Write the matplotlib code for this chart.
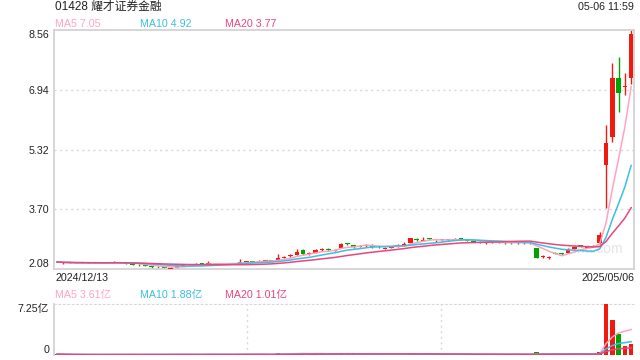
import numpy as np
import pandas as pd
import matplotlib
matplotlib.use('Agg')
import matplotlib.pyplot as plt

plt.rcParams['font.family'] = ['Liberation Sans', 'Noto Sans CJK SC']

title = '01428 耀才证券金融'
stamp = '05-06 11:59'
first_date = '2024/12/13'
last_date = '2025/05/06'

opens = [2.28,2.23,2.26,2.25,2.24,2.25,2.24,2.25,2.24,2.24,
         2.26,2.24,2.22,2.20,2.18,2.16,2.14,2.13,2.09,2.12,
         2.16,2.19,2.21,2.23,2.21,2.24,2.23,2.22,2.23,2.24,
         2.27,2.30,2.28,2.30,2.32,2.32,2.38,2.42,2.47,2.60,
         2.48,2.52,2.59,2.63,2.58,2.65,2.78,2.72,2.68,2.70,
         2.74,2.70,2.63,2.66,2.70,2.72,2.79,2.90,2.85,2.91,
         2.83,2.88,2.86,2.87,2.91,2.88,2.85,2.82,2.78,2.80,
         2.80,2.81,2.80,2.78,2.78,2.78,2.65,2.40,2.37,2.52,
         2.51,2.52,2.63,2.72,2.66,2.69,2.79,4.90,5.66,7.26,
         7.02,7.26]
closes = [2.27,2.25,2.25,2.24,2.25,2.24,2.25,2.24,2.25,2.26,
          2.25,2.22,2.20,2.19,2.16,2.14,2.13,2.12,2.12,2.15,
          2.18,2.20,2.22,2.22,2.23,2.23,2.22,2.23,2.24,2.27,
          2.29,2.28,2.30,2.30,2.31,2.38,2.41,2.46,2.53,2.49,
          2.51,2.59,2.62,2.60,2.60,2.76,2.75,2.68,2.71,2.74,
          2.69,2.68,2.65,2.69,2.73,2.76,2.92,2.87,2.87,2.89,
          2.84,2.86,2.88,2.89,2.89,2.85,2.82,2.80,2.79,2.81,
          2.79,2.79,2.78,2.80,2.79,2.79,2.38,2.43,2.40,2.50,
          2.49,2.63,2.68,2.70,2.68,2.71,3.00,5.50,7.26,6.85,
          7.04,8.45]
highs = [2.30,2.27,2.27,2.26,2.26,2.26,2.26,2.26,2.27,2.30,
         2.27,2.25,2.23,2.21,2.19,2.17,2.15,2.14,2.13,2.17,
         2.19,2.22,2.23,2.24,2.30,2.25,2.24,2.24,2.25,2.35,
         2.31,2.31,2.32,2.31,2.33,2.48,2.43,2.48,2.63,2.61,
         2.53,2.61,2.65,2.64,2.62,2.78,2.79,2.73,2.73,2.77,
         2.75,2.71,2.67,2.70,2.76,2.80,2.93,2.91,2.96,2.93,
         2.86,2.89,2.90,2.91,2.92,2.89,2.86,2.83,2.81,2.83,
         2.81,2.82,2.81,2.85,2.81,2.81,2.66,2.45,2.42,2.53,
         2.52,2.65,2.70,2.73,2.70,2.73,3.08,5.98,7.67,7.83,
         7.39,8.56]
lows = [2.26,2.22,2.24,2.23,2.23,2.23,2.23,2.23,2.23,2.23,
        2.24,2.21,2.19,2.17,2.15,2.12,2.11,2.10,2.08,2.11,
        2.15,2.18,2.20,2.21,2.20,2.21,2.21,2.21,2.22,2.23,
        2.26,2.27,2.27,2.29,2.30,2.31,2.37,2.41,2.46,2.47,
        2.47,2.51,2.58,2.57,2.57,2.64,2.73,2.66,2.67,2.69,
        2.66,2.66,2.62,2.65,2.69,2.71,2.78,2.85,2.84,2.86,
        2.82,2.84,2.85,2.86,2.87,2.84,2.81,2.79,2.77,2.78,
        2.78,2.77,2.77,2.77,2.77,2.77,2.37,2.39,2.34,2.48,
        2.47,2.51,2.62,2.67,2.65,2.68,2.77,3.73,5.52,6.34,
        6.80,7.10]
# 成交额，单位：亿
volumes = [0.12,0.08,0.06,0.05,0.06,0.05,0.06,0.05,0.07,0.10,
           0.06,0.08,0.07,0.06,0.08,0.07,0.06,0.07,0.12,0.09,
           0.07,0.08,0.07,0.06,0.15,0.06,0.05,0.06,0.07,0.18,
           0.10,0.07,0.08,0.06,0.07,0.25,0.15,0.18,0.30,0.22,
           0.12,0.20,0.18,0.12,0.10,0.28,0.18,0.12,0.10,0.12,
           0.10,0.08,0.09,0.08,0.10,0.12,0.30,0.15,0.18,0.12,
           0.10,0.09,0.10,0.08,0.09,0.10,0.12,0.10,0.08,0.07,
           0.07,0.08,0.09,0.10,0.08,0.07,0.40,0.12,0.15,0.10,
           0.09,0.20,0.15,0.10,0.08,0.10,0.40,7.25,4.93,3.04,
           1.30,1.60]

price_ticks = [2.08, 3.70, 5.32, 6.94, 8.56]
ma_price_text = ['MA5 7.05', 'MA10 4.92', 'MA20 3.77']
ma_vol_text = ['MA5 3.61亿', 'MA10 1.88亿', 'MA20 1.01亿']

RED = '#f01a0f'
GREEN = '#00a400'
MA_COLORS = ['#ffa3c3', '#3cbfe0', '#e8467c']
GRID = '#d8d8d8'
EDGE = '#d0d0d0'
TXT = '#222222'

W, H = 640, 360
def box(l, t, r, b):
    return [l / W, 1 - b / H, (r - l) / W, (b - t) / H]

fig = plt.figure(figsize=(6.4, 3.6), dpi=100)
ax = fig.add_axes(box(54, 30, 634, 269))
ax2 = fig.add_axes(box(54, 304, 634, 355))

n = len(closes)
x = np.arange(n)
o = np.array(opens); c = np.array(closes)
up = c >= o
colors = np.where(up, RED, GREEN)

# K线
ax.vlines(x, lows, highs, colors=colors, lw=1, zorder=2)
body = np.maximum(np.abs(c - o), 0.012)
ax.bar(x, body, bottom=np.minimum(o, c), width=0.72, color=colors, lw=0, zorder=3)

close_s = pd.Series(closes)
for k, col in zip([5, 10, 20], MA_COLORS):
    ax.plot(x, close_s.rolling(k, min_periods=1).mean(), color=col, lw=1.1, zorder=4)

xl = (-0.48, n - 0.55)
ax.set_xlim(xl)
ax.set_ylim(2.08, 8.56)
for v in price_ticks[1:-1]:
    ax.axhline(v, color=GRID, lw=1, ls=(0, (1.5, 2.5)), zorder=1)
ax.set_yticks(price_ticks)
ax.set_yticklabels(['%.2f' % v for v in price_ticks])
ax.tick_params(axis='y', length=0, pad=3.5, labelsize=7.7, labelcolor=TXT)
ax.set_xticks([])
lbl = ax.get_yticklabels()
lbl[0].set_va('bottom')
lbl[-1].set_va('top')
for s in ax.spines.values():
    s.set_color(EDGE)
    s.set_linewidth(1.2)

ax.text(623 / W, 1 - 249 / H, 'sina.com', transform=fig.transFigure, ha='right',
        va='center', color='#e4e4e4', fontsize=10, zorder=0.5)

# 成交量
ax2.bar(x, volumes, width=0.72, color=colors, lw=0, zorder=3)
vol_s = pd.Series(volumes)
for k, col in zip([5, 10, 20], MA_COLORS):
    ax2.plot(x, vol_s.rolling(k, min_periods=1).mean(), color=col, lw=1.1, zorder=4)
ax2.set_xlim(xl)
ax2.set_ylim(0, 7.25)
span = xl[1] - xl[0]
for f in [1 / 3, 2 / 3]:
    ax2.axvline(xl[0] + span * f, color=GRID, lw=1, ls=(0, (1.5, 2.5)), zorder=1)
ax2.set_yticks([0, 7.25])
ax2.set_yticklabels(['0', '7.25亿'])
ax2.tick_params(axis='y', length=0, pad=3.5, labelsize=7.7, labelcolor=TXT)
ax2.set_xticks([])
lbl2 = ax2.get_yticklabels()
lbl2[0].set_va('bottom')
lbl2[1].set_va('top')
ax2.spines['left'].set_color(EDGE)
ax2.spines['left'].set_linewidth(1.2)
ax2.spines['top'].set_color(GRID)
ax2.spines['top'].set_linestyle((0, (1.5, 2.5)))
ax2.spines['right'].set_visible(False)
ax2.spines['bottom'].set_visible(False)

# 文字
fig.text(55 / W, 1 - 7 / H, title, va='center', fontsize=8.5, color=TXT)
fig.text(634 / W, 1 - 7 / H, stamp, va='center', ha='right', fontsize=7.7, color=TXT)
for t, px, col in zip(ma_price_text, [55, 140, 225], MA_COLORS):
    fig.text(px / W, 1 - 24 / H, t, va='center', fontsize=7.7, color=col)
for t, px, col in zip(ma_vol_text, [55, 140, 225], MA_COLORS):
    fig.text(px / W, 1 - 295 / H, t, va='center', fontsize=7.7, color=col)
fig.text(55 / W, 1 - 278 / H, first_date, va='center', fontsize=7.7, color=TXT)
fig.text(634 / W, 1 - 278 / H, last_date, va='center', ha='right', fontsize=7.7, color=TXT)

fig.savefig('out.png', dpi=100)
